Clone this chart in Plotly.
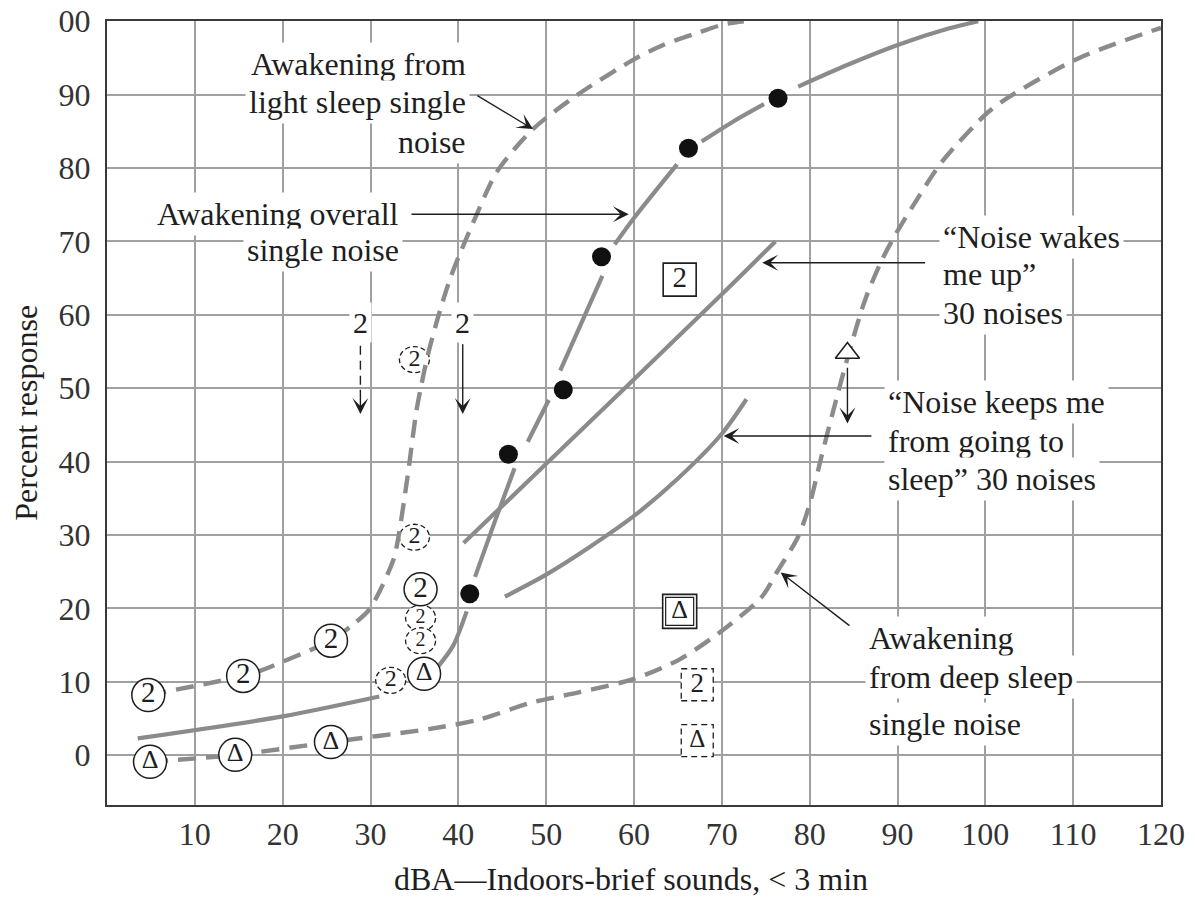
import plotly.graph_objects as go

SERIF = "Liberation Serif"
CURVE = "#8b8b8b"
INK = "#1e1e1e"
GRID = "#a0a0a0"
FRAME = "#3a3a3a"

# ---------------- data: x = dBA, y = percent response ----------------
# Awakening from light sleep, single noise (dashed)
light_x = [4.7, 15.5, 17.4, 23.5, 25.5, 28.0, 29.9, 32.6, 33.1, 34.2, 35.2, 35.7, 36.5,
           37.6, 39.0, 40.0, 42.1, 44.4, 48.5, 53.6, 60.0, 63.4, 67.2, 70.3, 72.5]
light_y = [8.2, 10.8, 11.5, 14.5, 15.6, 17.8, 19.9, 26.6, 29.2, 37.8, 46.7, 49.9, 54.4,
           59.3, 64.7, 67.8, 73.7, 79.5, 85.3, 90.0, 94.8, 96.8, 98.4, 99.6, 100.0]

# Awakening overall, single noise (solid, broken around the data points)
overall_x = [3.5, 20.0, 31.0, None,
             37.5, 39.4, 40.95, None,
             41.9, 44.2, 46.4, None,
             47.9, 50.3, None,
             51.6, 56.4, None,
             57.8, 60.0, 64.9, None,
             67.7, 71.4, 74.8, None,
             78.7, 84.4, 90.1, 95.8, 99.2]
overall_y = [2.3, 5.3, 8.0, None,
             11.8, 14.9, 19.6, None,
             24.3, 32.0, 39.1, None,
             42.7, 48.4, None,
             52.4, 65.3, None,
             69.6, 73.2, 80.5, None,
             83.6, 86.4, 88.7, None,
             91.1, 94.1, 96.8, 99.0, 100.0]
overall_pts_x = [41.3, 45.7, 51.95, 56.3, 66.2, 76.4]
overall_pts_y = [22.0, 41.0, 49.8, 67.9, 82.7, 89.5]

# "Noise wakes me up" 30 noises
wakes_x = [40.6, 50.0, 70.0, 76.1]
wakes_y = [28.9, 39.7, 62.8, 70.0]

# "Noise keeps me from going to sleep" 30 noises
keeps_x = [45.3, 50.0, 55.0, 60.0, 65.0, 70.0, 72.8]
keeps_y = [21.6, 24.6, 28.4, 32.6, 37.7, 43.8, 48.5]

# Awakening from deep sleep, single noise (dashed)
deep_x = [4.9, 14.6, 25.5, 36.8, 42.5, 48.1, 53.8, 60.0, 65.1, 69.6, 74.5, 76.4, 78.7,
          80.0, 81.3, 82.7, 84.4, 86.3, 88.2, 89.8, 92.1, 95.1, 100.4, 103.4, 110.7, 120.0]
deep_y = [-0.9, 0.05, 1.8, 3.6, 4.9, 7.1, 8.6, 10.4, 13.0, 16.6, 21.5, 25.2, 29.8,
          34.2, 40.5, 47.0, 54.5, 62.0, 67.4, 71.0, 75.5, 80.9, 87.7, 90.2, 95.0, 99.1]

# study points drawn as symbols
circ2_x = [4.7, 15.5, 25.5, 35.7]
circ2_y = [8.2, 10.8, 15.6, 22.6]
dcirc2_x = [35.0, 35.0, 35.7, 35.7, 32.3]
dcirc2_y = [53.9, 29.7, 18.7, 15.6, 10.2]
circtri_x = [4.9, 14.6, 25.5, 36.1]
circtri_y = [-0.9, 0.05, 1.8, 11.1]
sq2_x, sq2_y = [65.2], [64.8]
sqtri_x, sqtri_y = [65.2], [19.6]
dsq2_x, dsq2_y = [67.2], [9.6]
dsqtri_x, dsqtri_y = [67.2], [2.0]
tri_x, tri_y = [84.3], [54.8]

# axis ticks
x_ticks = [10, 20, 30, 40, 50, 60, 70, 80, 90, 100, 110, 120]
x_tick_text = ["10", "20", "30", "40", "50", "60", "70", "80", "90", "100", "110", "120"]
y_ticks = [0, 10, 20, 30, 40, 50, 60, 70, 80, 90, 100]
y_tick_text = ["0", "10", "20", "30", "40", "50", "60", "70", "80", "90", "00"]

fig = go.Figure()


def add_curve(x, y, dash="solid", width=4.2, smoothing=0.8):
    fig.add_trace(go.Scatter(
        x=x, y=y, mode="lines", hoverinfo="skip", showlegend=False,
        line=dict(color=CURVE, width=width, dash=dash, shape="spline", smoothing=smoothing)))


add_curve(light_x, light_y, dash="18px,10px", width=4.4)
add_curve(deep_x, deep_y, dash="18px,10px", width=4.4)
add_curve(wakes_x, wakes_y)
add_curve(keeps_x, keeps_y)
add_curve(overall_x, overall_y)

# dashed leader of the left "2" arrow
fig.add_trace(go.Scatter(x=[28.85, 28.85], y=[55.8, 49.6], mode="lines", hoverinfo="skip",
                         showlegend=False, line=dict(color=INK, width=1.4, dash="9px,6px")))


def add_symbols(x, y, symbol, size, text=None, lw=1.5, tsize=29):
    fig.add_trace(go.Scatter(
        x=x, y=y, mode="markers+text" if text else "markers", hoverinfo="skip",
        showlegend=False,
        marker=dict(symbol=symbol, size=size, color="white", line=dict(color=INK, width=lw)),
        text=[text] * len(x) if text else None, textposition="middle center",
        textfont=dict(family=SERIF, size=tsize, color=INK)))


add_symbols(circ2_x, circ2_y, "circle", 33, "2")
add_symbols(circtri_x, circtri_y, "circle", 33, "Δ", tsize=26)
add_symbols(sq2_x, sq2_y, "square", 33, "2", lw=1.6)
add_symbols(sqtri_x, sqtri_y, "square", 34, None, lw=1.6)
add_symbols(sqtri_x, sqtri_y, "square", 28, "Δ", lw=1.2, tsize=26)
add_symbols(tri_x, tri_y, "triangle-up", 21, None, lw=1.6)

# text inside the dashed outlines (the tightly stacked pair is set smaller)
fig.add_trace(go.Scatter(x=dcirc2_x + dsq2_x + dsqtri_x,
                         y=dcirc2_y + dsq2_y + dsqtri_y,
                         mode="text", hoverinfo="skip", showlegend=False,
                         text=["2"] * len(dcirc2_x) + ["2", "Δ"],
                         textposition="middle center",
                         textfont=dict(family=SERIF, size=[24, 24, 20, 20, 24, 27, 25],
                                       color=INK)))

# black data points of the overall curve
fig.add_trace(go.Scatter(x=overall_pts_x, y=overall_pts_y, mode="markers", hoverinfo="skip",
                         showlegend=False, marker=dict(symbol="circle", size=19, color="#111111")))

# dashed outlines (circles and boxes) anchored at data points, sized in pixels
shapes = []
for x, y in zip(dcirc2_x, dcirc2_y):
    shapes.append(dict(type="circle", xref="x", yref="y", xsizemode="pixel", ysizemode="pixel",
                       xanchor=x, yanchor=y, x0=-15, x1=15, y0=-13, y1=13,
                       line=dict(color=INK, width=1.3, dash="5px,3px"),
                       fillcolor="white", layer="between"))
for x, y in zip(dsq2_x + dsqtri_x, dsq2_y + dsqtri_y):
    shapes.append(dict(type="rect", xref="x", yref="y", xsizemode="pixel", ysizemode="pixel",
                       xanchor=x, yanchor=y, x0=-16, x1=16, y0=-16, y1=16,
                       line=dict(color=INK, width=1.3, dash="6px,4px"),
                       fillcolor="white", layer="between"))

annotations = []


def arrow(head, tail):
    annotations.append(dict(x=head[0], y=head[1], ax=tail[0], ay=tail[1],
                            xref="x", yref="y", axref="x", ayref="y", text="",
                            showarrow=True, arrowhead=3, arrowsize=1.9, arrowwidth=1.4,
                            arrowcolor=INK, standoff=0))


def label(lines, x, ys, anchor):
    for s, y in zip(lines, ys):
        annotations.append(dict(x=x, y=y, xref="x", yref="y", text=s, showarrow=False,
                                xanchor=anchor, yanchor="middle", bgcolor="white",
                                borderpad=3, font=dict(family=SERIF, size=32, color=INK)))


label(["Awakening from", "light sleep single", "noise"], 41.3, [94.2, 88.95, 83.6], "right")
label(["Awakening overall", "single noise"], 33.7, [73.7, 68.9], "right")
label(["“Noise wakes", "me up”", "30 noises"], 94.7, [70.6, 65.5, 60.3], "left")
label(["“Noise keeps me", "from going to", "sleep” 30 noises"], 88.5, [48.1, 42.8, 37.6], "left")
label(["Awakening", "from deep sleep", "single noise"], 86.25, [15.95, 10.7, 4.3], "left")

for xv in (28.85, 40.5):
    annotations.append(dict(x=xv, y=58.9, xref="x", yref="y", text="2", showarrow=False,
                            bgcolor="white", borderpad=3,
                            font=dict(family=SERIF, size=30, color=INK)))

arrow((48.5, 85.3), (42.0, 90.0))
arrow((59.4, 73.7), (34.5, 73.7))
arrow((74.6, 67.1), (93.3, 67.1))
arrow((70.2, 43.5), (87.2, 43.5))
arrow((76.7, 24.9), (84.7, 17.5))
arrow((40.5, 46.5), (40.5, 56.2))
arrow((28.85, 46.5), (28.85, 50.0))
arrow((84.3, 45.2), (84.3, 53.0))

# axis titles
annotations.append(dict(x=0.497, y=-0.094, xref="paper", yref="paper",
                        text="dBA—Indoors-brief sounds, &lt; 3 min", showarrow=False,
                        xanchor="center", yanchor="middle",
                        font=dict(family=SERIF, size=32, color=INK)))
annotations.append(dict(x=-0.077, y=0.5, xref="paper", yref="paper",
                        text="Percent response", showarrow=False, textangle=-90,
                        xanchor="center", yanchor="middle",
                        font=dict(family=SERIF, size=32, color=INK)))

fig.update_layout(
    template="none",
    width=1195, height=898,
    margin=dict(l=107, r=34, t=21, b=93, autoexpand=False),
    paper_bgcolor="white", plot_bgcolor="white",
    showlegend=False,
    font=dict(family=SERIF, color=INK, size=32),
    shapes=shapes, annotations=annotations,
)
axis_common = dict(showgrid=True, gridcolor=GRID, gridwidth=1.6, zeroline=False,
                   showline=True, mirror=True, linecolor=FRAME, linewidth=2, ticks="",
                   automargin=False,
                   tickfont=dict(family=SERIF, size=32, color="#333333"))
fig.update_xaxes(range=[0, 120], tickvals=x_ticks, ticktext=x_tick_text,
                 ticklabelstandoff=0, **axis_common)
fig.update_yaxes(range=[-6.78, 100.03], tickvals=y_ticks, ticktext=y_tick_text,
                 ticklabelstandoff=8, **axis_common)

fig.write_html("out.html", config={"displayModeBar": False})
